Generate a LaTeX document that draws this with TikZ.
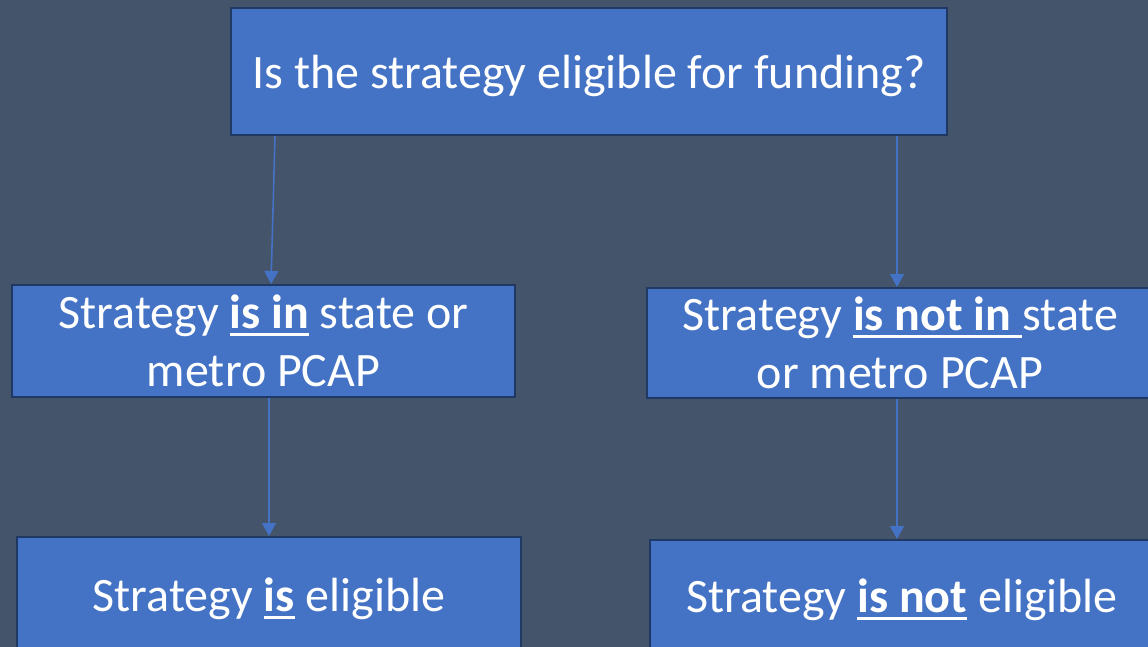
\documentclass[tikz,border=0pt]{standalone}
\usepackage{fontspec}
\setmainfont{Carlito}
\usetikzlibrary{arrows.meta}
\definecolor{slate}{HTML}{44546A}
\definecolor{boxblue}{HTML}{4472C4}
\definecolor{boxedge}{HTML}{1F3864}
\newcommand{\key}[1]{\setbox0\hbox{\textbf{#1}}\rlap{\rule[-7pt]{\wd0}{2.5pt}}\box0\relax}
\tikzset{
	decision/.style={
			draw=boxedge, line width=2pt, fill=boxblue, text=white,
			inner sep=0pt, align=center,
			font=\fontsize{48}{58}\selectfont
		},
	flow/.style={
			draw=boxblue, line width=1.6pt,
			-{Triangle[length=13pt,width=14pt]}
		}
}

\begin{document}
\begin{tikzpicture}[x=1pt,y=-1pt]

		% Background
		\fill[slate] (0,0) rectangle (1148,647);
		\useasboundingbox (0,0) rectangle (1148,647);

		% Question
		\node[decision, text depth=0pt, minimum width=716, minimum height=127] (question) at (589,71.5) {Is the strategy eligible for funding?};

		% Plan check
		\node[decision, minimum width=503, minimum height=112] (inplan) at (263.5,341) {Strategy \key{is in} state or\\metro PCAP};
		\node[decision, minimum width=506, minimum height=110] (notinplan) at (900,343) {Strategy \key{is not in\ }state\\or metro PCAP};

		% Outcome
		\node[decision, minimum width=504, minimum height=124] (eligible) at (269,599) {Strategy \key{is} eligible};
		\node[decision, minimum width=504, minimum height=120] (noteligible) at (902,600) {Strategy \key{is not} eligible};

		% Arrows
		\draw[flow] ([xshift=45pt]question.south west) -- ([xshift=260pt]inplan.north west);
		\draw[flow] ([xshift=667pt]question.south west) -- ([xshift=251pt]notinplan.north west);
		\draw[flow] ([xshift=258pt]inplan.south west) -- ([xshift=253pt]eligible.north west);
		\draw[flow] ([xshift=251pt]notinplan.south west) -- ([xshift=248pt]noteligible.north west);
	\end{tikzpicture}
\end{document}
